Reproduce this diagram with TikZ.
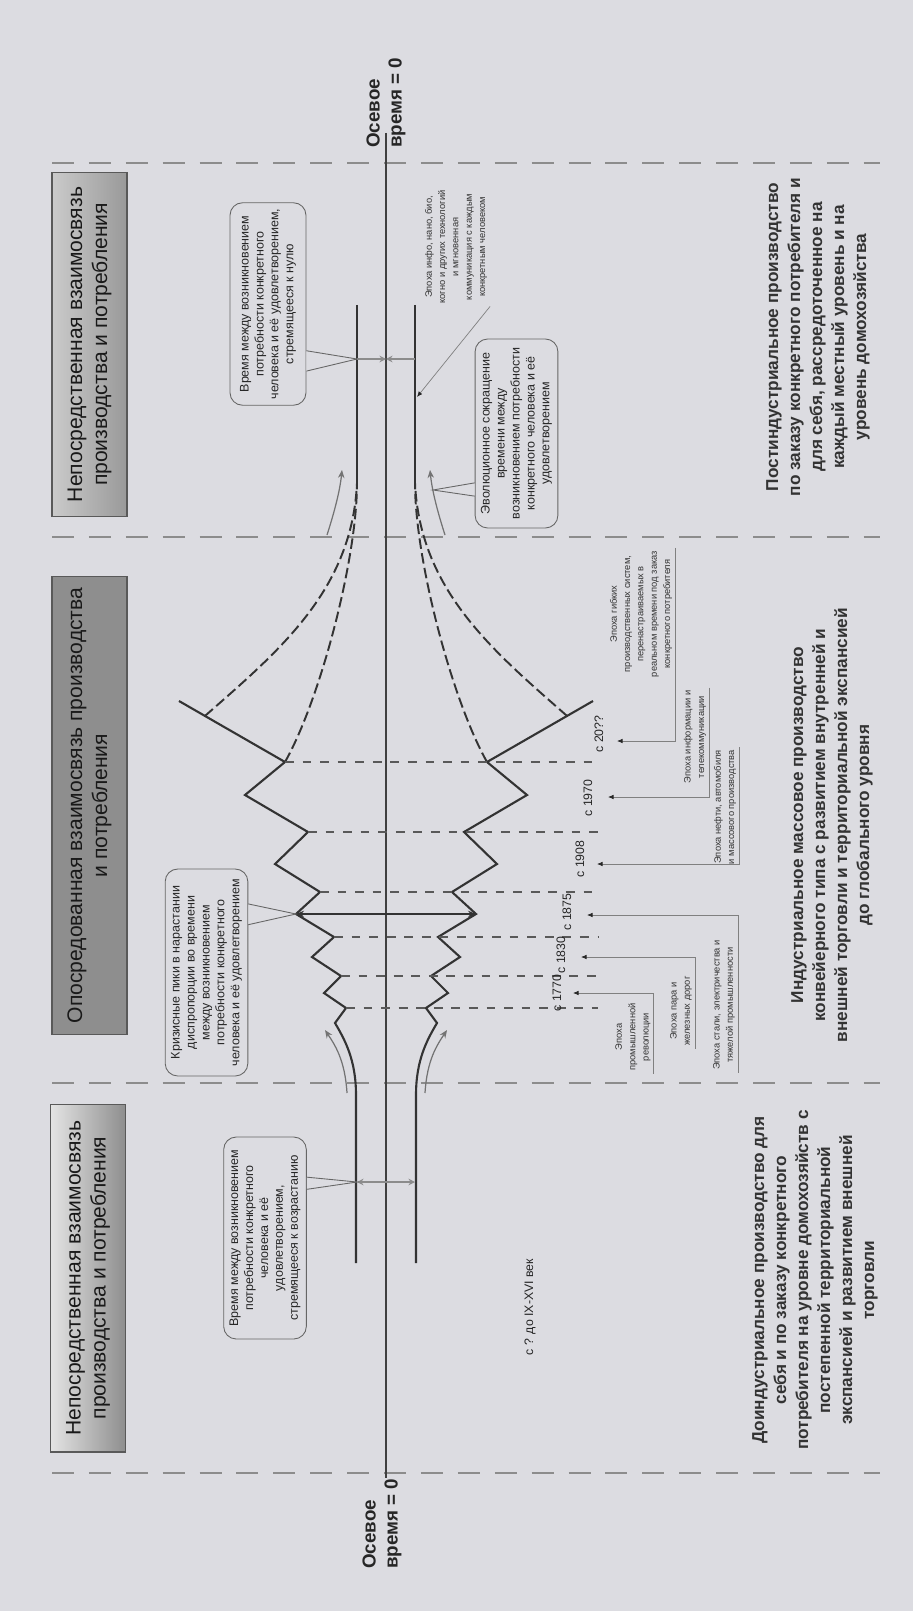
\documentclass[tikz,border=0pt]{standalone}
\usepackage{fontspec}
\setmainfont{Liberation Sans}
\usetikzlibrary{positioning,calc,arrows.meta}
\definecolor{bg}{HTML}{DCDCE1}
\definecolor{boxdark}{HTML}{8E8E8E}
\definecolor{boxlight}{HTML}{E4E4E4}

\begin{document}
\begin{tikzpicture}[x=0.02cm, y=-0.02cm,
		% --- линии ---
		axis_line/.style={draw=black!75, line width=0.6pt},
		div_line/.style={draw=black!45, line width=1.1pt, dash pattern=on 12.5pt off 8.5pt},
		fun_line/.style={draw=black!80, line width=1.2pt},
		fan_dash/.style={draw=black!80, line width=1.1pt, dash pattern=on 6pt off 2.5pt},
		mark_dash/.style={draw=black!65, line width=0.8pt, dash pattern=on 5pt off 5pt},
		bend_arr/.style={draw=black!55, line width=0.7pt, -{Stealth[length=1.6mm,width=1.3mm]}},
		gap_arr/.style={draw=black!45, line width=0.6pt, -{Stealth[length=1.3mm,width=1.3mm]}},
		crisis_arr/.style={draw=black!80, line width=0.9pt, {Stealth[length=1.6mm,width=1.3mm]}-{Stealth[length=1.6mm,width=1.3mm]}},
		ep_lead/.style={draw=black!50, line width=0.4pt, -{Latex[length=1.1mm,width=0.9mm,black!85]}},
		call_ptr/.style={draw=black!60, line width=0.5pt},
		% --- узлы ---
		sec_box/.style={draw=black!65, line width=0.6pt, rotate=90, minimum height=1.5cm,
			align=center, font=\fontsize{12}{14.2}\selectfont, text=black!90},
		call_box/.style={draw=black!60, line width=0.5pt, fill=bg, rounded corners=2.5mm, rotate=90,
			align=center, font=\fontsize{7.1}{8.5}\selectfont, text=black!85},
		right_txt/.style={rotate=90, align=center, font=\bfseries\fontsize{9.8}{12.5}\selectfont, text=black!80},
		epoch_txt/.style={rotate=90, align=center, inner sep=1.5pt, font=\fontsize{5.3}{7.6}\selectfont, text=black!80},
		year_txt/.style={rotate=90, inner sep=0pt, font=\fontsize{7}{8}\selectfont, text=black!85},
		axis_lbl/.style={rotate=90, align=left, inner sep=0pt, font=\bfseries\fontsize{10.7}{12.5}\selectfont, text=black!85}
	]
	% Фон
	\fill[bg] (0,0) rectangle (913,1611);
	\useasboundingbox (0,0) rectangle (913,1611);
	
	% Границы этапов
	\foreach \yy in {163,537,1083,1473}
	\draw[div_line] (52,\yy) -- (880,\yy);
	
	% Ось
	\coordinate (ax_top) at (386,133);
	\coordinate (ax_bot) at (386,1478);
	\draw[axis_line] (ax_top) -- (ax_bot);
	\node[axis_lbl, anchor=west] (lbl_top) at (386,148) {Осевое\\время = 0};
	\node[axis_lbl, anchor=west] (lbl_bot) at (382,1569) {Осевое\\время = 0};
	
	% Заголовки этапов
	\node[sec_box, minimum width=6.9cm, left color=boxlight!70!boxdark, right color=boxdark!90] (s_top) at (89.5,344.5)
	{Непосредственная взаимосвязь\\производства и потребления};
	\node[sec_box, minimum width=9.18cm, fill=boxdark] (s_mid) at (89.5,805.5)
	{Опосредованная взаимосвязь производства\\и потребления};
	\node[sec_box, minimum width=6.96cm, left color=boxlight, right color=boxdark] (s_bot) at (88,1278)
	{Непосредственная взаимосвязь\\производства и потребления};
	
	% Вершины ломаных (d от оси / y)
	\foreach \d/\yy [count=\i] in {51/1023,40/1008,62/993,45/976,74/957,52/937,90/914,66/892,111/864,78/832,141/795,101/762,207/701}{
		\coordinate (u\i) at (386-\d,\yy);
		\coordinate (l\i) at (386+\d,\yy);
	}
	\coordinate (u_b) at (356,1263);
	\coordinate (u_c) at (356,1095);
	\coordinate (l_b) at (416,1263);
	\coordinate (l_c) at (416,1095);
	\coordinate (ur_t) at (357,305);
	\coordinate (ur_b) at (357,483);
	\coordinate (lr_t) at (415,305);
	\coordinate (lr_b) at (415,483);
	\coordinate (u_o) at ($(u12)!0.755!(u13)$);
	\coordinate (l_o) at ($(l12)!0.755!(l13)$);
	
	% Сплошные линии
	\draw[fun_line] (u_b) -- (u_c) .. controls (356,1060) and (345,1040) .. (u1)
	\foreach \i in {2,...,13}{ -- (u\i)};
	\draw[fun_line] (l_b) -- (l_c) .. controls (416,1060) and (427,1040) .. (l1)
	\foreach \i in {2,...,13}{ -- (l\i)};
	\draw[fun_line] (ur_t) -- (ur_b);
	\draw[fun_line] (lr_t) -- (lr_b);
	
	% Пунктирные веера
	\draw[fan_dash] (u12) .. controls (320,700) and (357,560) .. (ur_b);
	\draw[fan_dash] (u_o) .. controls (280,650) and (352,590) .. (ur_b);
	\draw[fan_dash] (l12) .. controls (452,700) and (415,560) .. (lr_b);
	\draw[fan_dash] (l_o) .. controls (492,650) and (420,590) .. (lr_b);
	
	% Отметки периодов
	\coordinate (m_x) at (598,0);
	\foreach \i in {2,4,...,12}
	\draw[mark_dash] (u\i) -- (u\i -| m_x);
	
	% Кризисный пик
	\draw[crisis_arr] (u7) -- (l7);
	
	% Интервалы
	\coordinate (gt_l) at (357,359);
	\coordinate (gt_m) at (386,359);
	\coordinate (gt_r) at (415,359);
	\draw[gap_arr] (gt_l) -- (gt_m);
	\draw[gap_arr] (gt_r) -- (gt_m);
	\coordinate (gb_l) at (357,1182);
	\coordinate (gb_r) at (415,1182);
	\draw[gap_arr, {Stealth[length=1.3mm,width=1.3mm]}-{Stealth[length=1.3mm,width=1.3mm]}] (gb_l) -- (gb_r);
	
	% Изогнутые стрелки
	\coordinate (ba1) at (347,1093); \coordinate (bb1) at (325,1030);
	\coordinate (ba2) at (425,1093); \coordinate (bb2) at (447,1030);
	\coordinate (ta1) at (327,535);  \coordinate (tb1) at (342,470);
	\coordinate (ta2) at (445,535);  \coordinate (tb2) at (430,470);
	\draw[bend_arr] (ba1) .. controls (345,1060) and (335,1045) .. (bb1);
	\draw[bend_arr] (ba2) .. controls (427,1060) and (437,1045) .. (bb2);
	\draw[bend_arr] (ta1) .. controls (335,510) and (340,490) .. (tb1);
	\draw[bend_arr] (ta2) .. controls (437,510) and (432,490) .. (tb2);
	
	% Выноски
	\node[call_box, minimum width=4.04cm, minimum height=1.52cm] (c1) at (268,304)
	{Время между возникновением\\потребности конкретного\\человека и её удовлетворением,\\стремящееся к нулю};
	\node[call_box, minimum width=3.78cm, minimum height=1.46cm] (c2) at (516.5,433.5)
	{Эволюционное сокращение\\времени между\\возникновением потребности\\конкретного человека и её\\удовлетворением};
	\node[call_box, minimum width=4.14cm, minimum height=1.62cm] (c3) at (206.5,972.5)
	{Кризисные пики в нарастании\\диспропорции во времени\\между возникновением\\потребности конкретного\\человека и её удовлетворением};
	\node[call_box, minimum width=4.04cm, minimum height=1.52cm] (c4) at (265,1238)
	{Время между возникновением\\потребности конкретного\\человека и её\\удовлетворением,\\стремящееся к возрастанию};
	\coordinate (c2_tip) at (433,490);
	
	\foreach \c/\fa/\fb/\tip/\sa/\sb in {c1/0.73/0.83/gt_l/south east/south west,
		c3/0.17/0.27/u7/south east/south west,
		c4/0.20/0.26/gb_l/south east/south west,
		c2/0.76/0.83/c2_tip/north east/north west}{
		\coordinate (\c_pa) at ($(\c.\sa)!\fa!(\c.\sb)$);
		\coordinate (\c_pb) at ($(\c.\sa)!\fb!(\c.\sb)$);
		\fill[bg] (\c_pa) -- (\tip) -- (\c_pb) -- cycle;
		\draw[call_ptr] (\c_pa) -- (\tip) -- (\c_pb);
	}
	
	% Эпоха инфо
	\node[epoch_txt] (e_info) at (456,247)
	{Эпоха инфо, нано, био,\\когно и других технологий\\и мгновенная\\коммуникация с каждым\\конкретным человеком};
	\coordinate (info_tip) at (417,397);
	\draw[ep_lead] (e_info.south west) -- (info_tip);
	
	% Годы
	\node[year_txt] (y0) at (530,1307) {с ? до IX-XVI век};
	\foreach \t/\xx/\yy [count=\i] in {1770/557/993,1830/561/955,1875/567/912,1908/580/859,1970/588/798,20??/599/734}
	\node[year_txt] (y\i) at (\xx,\yy) {с \t};
	\foreach \xx/\yy [count=\i] in {573/993,581/957,587/915,597/864,608/797,617/741}
	\coordinate (a\i) at (\xx,\yy);
	
	% Эпохи
	\node[epoch_txt] (e1) at (633,1037) {Эпоха\\промышленной\\революции};
	\node[epoch_txt] (e2) at (681,1011) {Эпоха пара и\\железных дорог};
	\node[epoch_txt] (e3) at (724,1005) {Эпоха стали, электричества и\\тяжелой промышленности};
	\node[epoch_txt] (e4) at (725,807) {Эпоха нефти, автомобиля\\и массового производства};
	\node[epoch_txt] (e5) at (695,737) {Эпоха информации и\\телекоммуникации};
	\node[epoch_txt] (e6) at (641,614) {Эпоха гибких\\производственных систем,\\перенастраиваемых в\\реальном времени под заказ\\конкретного потребителя};
	\foreach \i in {1,2,3}
	\draw[ep_lead] (e\i.south west) -- (e\i.south west |- a\i) -- (a\i);
	\foreach \i in {4,5,6}
	\draw[ep_lead] (e\i.south east) -- (e\i.south east |- a\i) -- (a\i);
	
	% Типы производства
	\node[right_txt] (t_post) at (818,337)
	{Постиндустриальное производство\\по заказу конкретного потребителя и\\для себя, рассредоточенное на\\каждый местный уровень и на\\уровень домохозяйства};
	\node[right_txt] (t_ind) at (832,825)
	{Индустриальное массовое производство\\конвейерного типа с развитием внутренней и\\внешней торговли и территориальной экспансией\\до глобального уровня};
	\node[right_txt] (t_pre) at (815,1280)
	{Доиндустриальное производство для\\себя и по заказу конкретного\\потребителя на уровне домохозяйств с\\постепенной территориальной\\экспансией и развитием внешней\\торговли};
\end{tikzpicture}
\end{document}
